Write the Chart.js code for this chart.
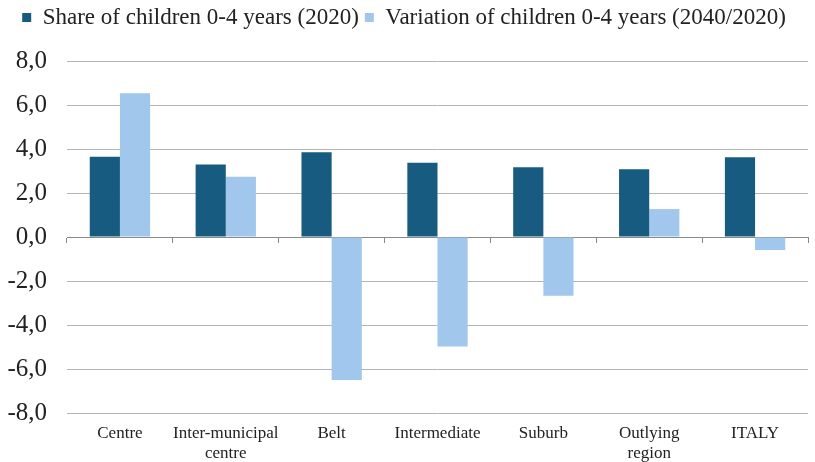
<!DOCTYPE html>
<html>
<head>
<meta charset="utf-8">
<script src="https://cdn.jsdelivr.net/npm/chart.js@4.4.1/dist/chart.umd.min.js"></script>
<style>
  html, body { margin: 0; padding: 0; background: #fff; }
  #wrap { width: 815px; height: 462px; position: relative; }
</style>
</head>
<body>
<div id="wrap"><canvas id="childrenChart"></canvas></div>
<script>
// categories and series
const categories = ['Centre', ['Inter-municipal', 'centre'], 'Belt', 'Intermediate', 'Suburb', ['Outlying', 'region'], 'ITALY'];
const share2020 = [3.65, 3.3, 3.85, 3.38, 3.17, 3.08, 3.62];
const variation2040 = [6.53, 2.74, -6.5, -4.98, -2.67, 1.27, -0.59];
const yTicks = [-8, -6, -4, -2, 0, 2, 4, 6, 8];

const serif = "'Liberation Serif', 'Times New Roman', serif";
const fmt = v => v.toFixed(1).replace('.', ',');

// extra room between the legend and the plot
const legendGap = {
  id: 'legendGap',
  beforeInit(chart) {
    const fit = chart.legend.fit;
    chart.legend.fit = function () {
      fit.call(this);
      this.height += 22;
    };
  }
};

new Chart(document.getElementById('childrenChart').getContext('2d'), {
  type: 'bar',
  data: {
    labels: categories,
    datasets: [
      {
        label: 'Share of children 0-4 years (2020)',
        data: share2020,
        backgroundColor: '#175b80',
        barPercentage: 1,
        categoryPercentage: 0.57
      },
      {
        label: 'Variation of children 0-4 years (2040/2020)',
        data: variation2040,
        backgroundColor: '#a2c7ec',
        barPercentage: 1,
        categoryPercentage: 0.57
      }
    ]
  },
  plugins: [legendGap],
  options: {
    responsive: true,
    maintainAspectRatio: false,
    animation: false,
    layout: { padding: { left: 0, right: 7, top: 0, bottom: 0 } },
    plugins: {
      legend: {
        position: 'top',
        labels: {
          font: { family: serif, size: 23 },
          color: '#222',
          boxWidth: 9,
          boxHeight: 9,
          padding: 6
        }
      },
      tooltip: { enabled: false }
    },
    scales: {
      x: {
        grid: { display: false },
        border: { display: false },
        ticks: {
          font: { family: serif, size: 17, lineHeight: 1.15 },
          color: '#222',
          maxRotation: 0,
          autoSkip: false,
          padding: 3
        },
        afterFit: s => { s.height = 49; }
      },
      // tick marks along the zero line
      x2: {
        type: 'category',
        position: { y: 0 },
        offset: true,
        grid: { offset: true, drawOnChartArea: false, tickLength: 5, color: '#8a8a8a' },
        border: { color: '#8a8a8a' },
        ticks: { display: false }
      },
      y: {
        min: -8,
        max: 8,
        afterBuildTicks: s => { s.ticks = yTicks.map(v => ({ value: v })); },
        grid: {
          drawTicks: false,
          color: ctx => ctx.tick && ctx.tick.value === 0 ? '#8a8a8a' : '#b4b4b4'
        },
        border: { display: false },
        ticks: {
          font: { family: serif, size: 25 },
          color: '#222',
          padding: 20,
          callback: v => fmt(v)
        },
        afterFit: s => { s.width = 67; }
      }
    }
  }
});
</script>
</body>
</html>
